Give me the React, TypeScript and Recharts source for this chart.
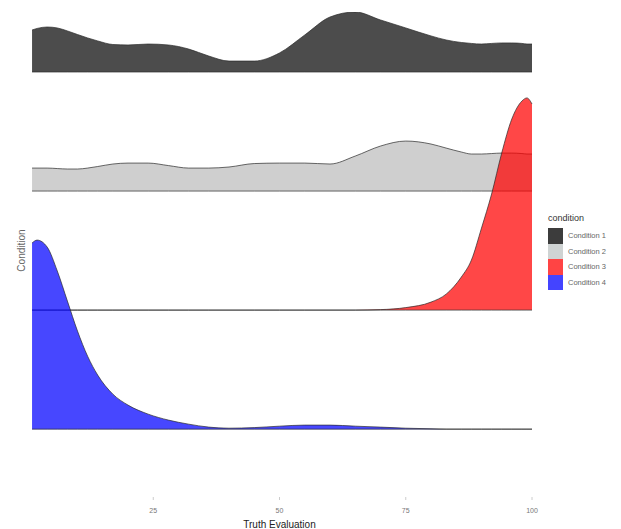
import { Area, ComposedChart, XAxis, YAxis } from "recharts";

// truth evaluation grid (x) and ridge heights (1 = one ridge step)
const truth = [1, 2, 4, 6, 8, 10, 12, 14, 17, 20, 24, 28, 32, 36, 40, 45, 50, 55, 60, 65, 70, 75, 80, 83, 86, 88, 90, 92, 94, 96, 98, 99, 100];

const condition1 = [
  0.353, 0.366, 0.378, 0.37, 0.345, 0.315, 0.286, 0.261, 0.231, 0.227, 0.235, 0.227, 0.193, 0.134, 0.092, 0.092,
  0.16, 0.311, 0.462, 0.504, 0.437, 0.37, 0.303, 0.269, 0.248, 0.24, 0.235, 0.24, 0.244, 0.244, 0.24, 0.235, 0.235,
];
const condition2 = [
  0.193, 0.193, 0.193, 0.189, 0.185, 0.185, 0.193, 0.206, 0.227, 0.235, 0.235, 0.214, 0.193, 0.193, 0.202, 0.231,
  0.235, 0.235, 0.227, 0.294, 0.378, 0.42, 0.395, 0.361, 0.328, 0.311, 0.311, 0.315, 0.319, 0.319, 0.315, 0.311, 0.311,
];
const condition3 = [
  0, 0, 0, 0, 0, 0, 0, 0, 0, 0, 0, 0, 0, 0, 0, 0, 0, 0, 0, 0, 0.004, 0.021, 0.067, 0.134, 0.277, 0.42, 0.689, 0.975,
  1.319, 1.605, 1.756, 1.782, 1.731,
];
const condition4 = [
  1.563, 1.588, 1.529, 1.328, 1.076, 0.824, 0.613, 0.454, 0.294, 0.202, 0.126, 0.076, 0.042, 0.017, 0.008, 0.013,
  0.025, 0.034, 0.034, 0.025, 0.017, 0.008, 0.003, 0, 0, 0, 0, 0, 0, 0, 0, 0, 0,
];

const xTicks = [25, 50, 75, 100];

const series = [
  { key: "c1", name: "Condition 1", values: condition1, offset: 3, fill: "#1a1a1a", opacity: 0.78, swatch: "#3c3c3c" },
  { key: "c2", name: "Condition 2", values: condition2, offset: 2, fill: "#bdbdbd", opacity: 0.72, swatch: "#cfd3d3" },
  { key: "c3", name: "Condition 3", values: condition3, offset: 1, fill: "#ff0000", opacity: 0.72, swatch: "#ff4444" },
  { key: "c4", name: "Condition 4", values: condition4, offset: 0, fill: "#0000ff", opacity: 0.72, swatch: "#4444ff" },
];

const data = truth.map((v, i) => {
  const row: Record<string, number | number[]> = { v };
  series.forEach((s) => {
    row[s.key] = [s.offset, s.offset + s.values[i]];
  });
  return row;
});

const font = "'Liberation Sans', Arial, sans-serif";

function RidgeLegend() {
  return (
    <div style={{ position: "absolute", left: 548, top: 213, fontFamily: font }}>
      <div style={{ fontSize: 9, color: "#333", marginBottom: 5 }}>condition</div>
      {series.map((s) => (
        <div key={s.key} style={{ display: "flex", alignItems: "center", height: 15.5 }}>
          <div style={{ width: 15, height: 15.5, background: s.swatch }} />
          <span style={{ fontSize: 7.5, color: "#666", marginLeft: 5, whiteSpace: "nowrap" }}>{s.name}</span>
        </div>
      ))}
    </div>
  );
}

export default function App() {
  return (
    <div style={{ position: "absolute", left: 0, top: 0, width: 621, height: 529, background: "#fff", fontFamily: font }}>
      <ComposedChart width={621} height={529} data={data} margin={{ top: 12, right: 89, left: 0, bottom: 0 }}>
        <XAxis
          dataKey="v"
          type="number"
          domain={[0, 100]}
          ticks={xTicks}
          height={32}
          axisLine={false}
          tickLine={{ stroke: "#cccccc" }}
          tickSize={3}
          tickMargin={8}
          tick={{ fontSize: 7, fill: "#777" }}
          label={{ value: "Truth Evaluation", position: "insideBottom", offset: 1, fontSize: 10, fill: "#222" }}
        />
        <YAxis
          type="number"
          domain={[-0.57, 3.504]}
          allowDataOverflow
          width={27}
          tick={false}
          axisLine={false}
          tickLine={false}
          label={{ value: "Condition", angle: -90, position: "center", dx: 8, dy: -4, fontSize: 10, fill: "#666" }}
        />
        {series.map((s) => (
          <Area
            key={s.key}
            type="monotone"
            dataKey={s.key}
            name={s.name}
            fill={s.fill}
            fillOpacity={s.opacity}
            stroke="#2b2b2b"
            strokeWidth={0.7}
            dot={false}
            activeDot={false}
            isAnimationActive={false}
          />
        ))}
      </ComposedChart>
      <RidgeLegend />
    </div>
  );
}
